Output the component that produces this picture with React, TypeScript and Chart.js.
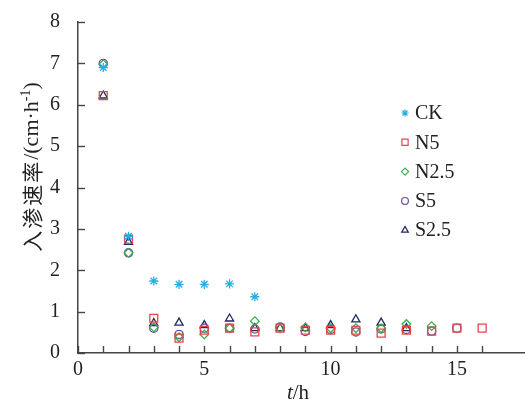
import React, { useEffect, useRef } from "react";
import { Chart, registerables } from "chart.js";
import { drawPoint } from "chart.js/helpers";

Chart.register(...registerables);

// ---- data ----
const hours = [1, 2, 3, 4, 5, 6, 7, 8, 9, 10, 11, 12, 13, 14, 15, 16];
const seriesNames = ["CK", "N5", "N2.5", "S5", "S2.5"];
const ckRate = [6.9, 2.82, 1.74, 1.66, 1.66, 1.67, 1.36];
const n5Rate = [6.22, 2.75, 0.84, 0.36, 0.55, 0.6, 0.51, 0.6, 0.55, 0.55, 0.55, 0.48, 0.55, 0.53, 0.6, 0.6];
const n25Rate = [6.98, 2.42, 0.62, 0.38, 0.45, 0.6, 0.77, 0.6, 0.62, 0.6, 0.6, 0.6, 0.7, 0.65];
const s5Rate = [7.0, 2.42, 0.6, 0.45, 0.6, 0.6, 0.58, 0.63, 0.52, 0.57, 0.51, 0.58, 0.57, 0.53, 0.6];
const s25Rate = [6.22, 2.68, 0.72, 0.73, 0.67, 0.83, 0.6, 0.6, 0.6, 0.67, 0.81, 0.73, 0.6];
const xTickLabels = ["0", "5", "10", "15"];
const yTickLabels = ["0", "1", "2", "3", "4", "5", "6", "7", "8"];

const seriesValues = [ckRate, n5Rate, n25Rate, s5Rate, s25Rate];
const seriesColors = ["#29aee3", "#e8454a", "#3aaf4a", "#6b4c9e", "#1f2a5e"];
const seriesStyles = ["star", "rect", "rectRot", "circle", "triangle"];
const seriesRadius = [4.6, 5.6, 4.3, 4.1, 4.7];
const legendRadius = [3.6, 4.4, 3.6, 3.4, 3.8];

const SERIF = '"Liberation Serif", "Times New Roman", serif';

const decorPlugin = {
  id: "decor",
  afterDraw(chart: any) {
    const { ctx, chartArea, scales } = chart;
    const xs = scales.x;
    const ys = scales.y;
    ctx.save();
    // inward tick marks
    ctx.strokeStyle = "#454545";
    ctx.lineWidth = 1.4;
    xs.ticks.forEach((t: any) => {
      const px = Math.round(xs.getPixelForValue(t.value)) + 0.5;
      ctx.beginPath();
      ctx.moveTo(px, chartArea.bottom);
      ctx.lineTo(px, chartArea.bottom - 7);
      ctx.stroke();
    });
    ys.ticks.forEach((t: any) => {
      const py = Math.round(ys.getPixelForValue(t.value)) + 0.5;
      ctx.beginPath();
      ctx.moveTo(chartArea.left, py);
      ctx.lineTo(chartArea.left + 7, py);
      ctx.stroke();
    });

    // x title: t/h with italic t
    ctx.fillStyle = "#222";
    ctx.textBaseline = "alphabetic";
    ctx.textAlign = "left";
    const fItal = `italic 21px ${SERIF}`;
    const fNorm = `21px ${SERIF}`;
    ctx.font = fItal;
    const wt = ctx.measureText("t").width;
    ctx.font = fNorm;
    const wh = ctx.measureText("/h").width;
    const cx = 298;
    const x0 = cx - (wt + wh) / 2;
    ctx.font = fItal;
    ctx.fillText("t", x0, 399);
    ctx.font = fNorm;
    ctx.fillText("/h", x0 + wt, 399);

    // y title rotated
    const cjkFont = `21px "Noto Sans CJK SC", sans-serif`;
    const parts = [
      { text: "入", font: cjkFont, dy: 0, w: 23 },
      { text: "渗", font: cjkFont, dy: 0, w: 23 },
      { text: "速", font: cjkFont, dy: 0, w: 23 },
      { text: "率", font: cjkFont, dy: 0, w: 23 },
      { text: "/(cm·h", font: `22px ${SERIF}`, dy: 0, w: 0 },
      { text: "-1", font: `14px ${SERIF}`, dy: -6, w: 0 },
      { text: ")", font: `22px ${SERIF}`, dy: 0, w: 0 },
    ];
    let total = 0;
    const widths = parts.map((p) => {
      ctx.font = p.font;
      const w = p.w || ctx.measureText(p.text).width;
      total += w;
      return w;
    });
    ctx.save();
    ctx.translate(31, 167);
    ctx.rotate(-Math.PI / 2);
    ctx.textBaseline = "middle";
    let px = -total / 2;
    parts.forEach((p, i) => {
      ctx.font = p.font;
      ctx.fillText(p.text, px, p.dy + 1);
      px += widths[i];
    });
    ctx.restore();

    // legend
    chart.data.datasets.forEach((ds: any, i: number) => {
      const ly = 113 + i * 29.3;
      ctx.strokeStyle = ds.borderColor;
      ctx.fillStyle = "rgba(0,0,0,0)";
      ctx.lineWidth = 1.2;
      drawPoint(ctx, { pointStyle: ds.pointStyle, radius: legendRadius[i], borderWidth: 1.2, rotation: 0 } as any, 405, ly);
      ctx.fillStyle = "#222";
      ctx.font = `20px ${SERIF}`;
      ctx.textBaseline = "middle";
      ctx.textAlign = "left";
      ctx.fillText(ds.label, 415, ly + 1);
    });
    ctx.restore();
  },
};

export default function App() {
  const ref = useRef<HTMLCanvasElement | null>(null);
  useEffect(() => {
    document.body.style.margin = "0";
    const canvas = ref.current;
    if (!canvas) return;
    const datasets = seriesNames.map((name, i) => ({
      label: name,
      data: seriesValues[i].map((v, j) => ({ x: hours[j], y: v })),
      pointStyle: seriesStyles[i],
      pointRadius: seriesRadius[i],
      pointBorderWidth: 1.3,
      borderColor: seriesColors[i],
      pointBorderColor: seriesColors[i],
      backgroundColor: "rgba(0,0,0,0)",
      pointBackgroundColor: "rgba(0,0,0,0)",
      showLine: false,
    }));
    const chart = new Chart(canvas, {
      type: "scatter",
      data: { datasets } as any,
      options: {
        responsive: false,
        animation: false,
        layout: { padding: { top: 20, right: 0, left: 0, bottom: 0 } },
        plugins: { legend: { display: false }, tooltip: { enabled: false } },
        scales: {
          x: {
            type: "linear",
            min: 0,
            max: 17.66,
            grid: { display: false },
            border: { display: true, color: "#454545", width: 1.5 },
            afterBuildTicks: (s: any) => {
              s.ticks = s.ticks.filter((t: any) => Number.isInteger(t.value));
            },
            afterFit: (s: any) => {
              s.height = 48;
            },
            ticks: {
              stepSize: 1,
              autoSkip: false,
              maxRotation: 0,
              padding: -3,
              color: "#222",
              font: { family: SERIF, size: 20 },
              callback: (v: any) => (xTickLabels.includes(String(v)) ? String(v) : ""),
            },
          },
          y: {
            type: "linear",
            min: 0,
            max: 8,
            grid: { display: false },
            border: { display: true, color: "#454545", width: 1.5 },
            afterFit: (s: any) => {
              s.width = 78;
            },
            ticks: {
              stepSize: 1,
              padding: 10,
              color: "#222",
              font: { family: SERIF, size: 20 },
              callback: (v: any) => (yTickLabels.includes(String(v)) ? String(v) : ""),
            },
          },
        },
      },
      plugins: [decorPlugin],
    } as any);
    return () => chart.destroy();
  }, []);
  return (
    <div style={{ position: "absolute", left: 0, top: 0, width: 531, height: 401 }}>
      <canvas ref={ref} width={531} height={401} style={{ display: "block" }} />
    </div>
  );
}
